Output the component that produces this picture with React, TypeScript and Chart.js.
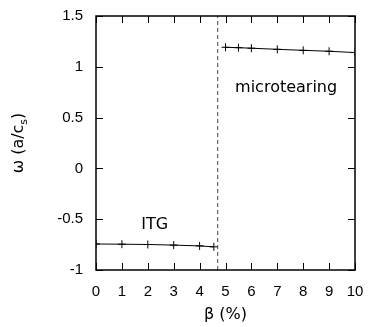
import React, { useEffect, useRef } from "react";
import { Chart, registerables } from "chart.js";

Chart.register(...registerables);

const itgBeta = [0, 1, 2, 3, 4, 4.55];
const itgOmega = [-0.744, -0.746, -0.749, -0.755, -0.763, -0.772];
const mtBeta = [5, 5.5, 6, 7, 8, 9, 10];
const mtOmega = [1.192, 1.188, 1.183, 1.172, 1.162, 1.153, 1.14];
const thresholdBeta = 4.7;
const xTicks = [0, 1, 2, 3, 4, 5, 6, 7, 8, 9, 10];
const yTicks = [-1, -0.5, 0, 0.5, 1, 1.5];
const annotations = [
  { text: "ITG", x: 1.75, y: -0.6 },
  { text: "microtearing", x: 5.37, y: 0.75 },
];

const TEXT_FONT = "16px 'DejaVu Sans'";

const framePlugin = {
  id: "frame",
  afterDatasetsDraw(chart: any) {
    const { ctx, chartArea: a, scales } = chart;
    const xs = scales.x;
    const ys = scales.y;
    ctx.save();
    const tx = xs.getPixelForValue(thresholdBeta);
    ctx.strokeStyle = "#444";
    ctx.lineWidth = 1;
    ctx.setLineDash([4, 3]);
    ctx.beginPath();
    ctx.moveTo(tx, a.bottom);
    ctx.lineTo(tx, a.top);
    ctx.stroke();
    ctx.setLineDash([]);
    ctx.strokeStyle = "#000";
    ctx.lineWidth = 1.5;
    ctx.strokeRect(a.left, a.top, a.right - a.left, a.bottom - a.top);
    const tl = 7;
    ctx.lineWidth = 1;
    ctx.beginPath();
    xTicks.forEach((v) => {
      const px = Math.round(xs.getPixelForValue(v)) + 0.5;
      ctx.moveTo(px, a.bottom);
      ctx.lineTo(px, a.bottom - tl);
      ctx.moveTo(px, a.top);
      ctx.lineTo(px, a.top + tl);
    });
    yTicks.forEach((v) => {
      const py = Math.round(ys.getPixelForValue(v)) + 0.5;
      ctx.moveTo(a.left, py);
      ctx.lineTo(a.left + tl, py);
      ctx.moveTo(a.right, py);
      ctx.lineTo(a.right - tl, py);
    });
    ctx.stroke();
    ctx.fillStyle = "#000";
    ctx.font = TEXT_FONT;
    ctx.textAlign = "left";
    ctx.textBaseline = "alphabetic";
    annotations.forEach((an) => {
      ctx.fillText(an.text, xs.getPixelForValue(an.x), ys.getPixelForValue(an.y));
    });
    ctx.textAlign = "center";
    ctx.fillText("β (%)", (a.left + a.right) / 2, 319);
    ctx.translate(23, 143);
    ctx.rotate(-Math.PI / 2);
    const p1 = "ω (a/c";
    const sub = "s";
    const p2 = ")";
    ctx.font = TEXT_FONT;
    const w1 = ctx.measureText(p1).width;
    const w3 = ctx.measureText(p2).width;
    ctx.font = "11px 'DejaVu Sans'";
    const w2 = ctx.measureText(sub).width;
    const total = w1 + w2 + w3;
    const x0 = -total / 2;
    ctx.textAlign = "left";
    ctx.font = TEXT_FONT;
    ctx.fillText(p1, x0, 0);
    ctx.font = "11px 'DejaVu Sans'";
    ctx.fillText(sub, x0 + w1, 4);
    ctx.font = TEXT_FONT;
    ctx.fillText(p2, x0 + w1 + w2, 0);
    ctx.restore();
  },
};

export default function App() {
  const ref = useRef<HTMLCanvasElement>(null);
  useEffect(() => {
    if (!ref.current) return;
    const ds = (xs: number[], ys: number[]) => ({
      data: xs.map((b, i) => ({ x: b, y: ys[i] })),
      borderColor: "#000",
      borderWidth: 1,
      pointStyle: "cross" as const,
      pointRadius: 4,
      pointBorderColor: "#000",
      pointBorderWidth: 1,
      tension: 0,
    });
    const chart = new Chart(ref.current, {
      type: "line",
      data: { datasets: [ds(itgBeta, itgOmega), ds(mtBeta, mtOmega)] },
      options: {
        animation: false,
        responsive: false,
        maintainAspectRatio: false,
        layout: { padding: { top: 16, right: 15, left: 0, bottom: 0 } },
        plugins: { legend: { display: false }, tooltip: { enabled: false } },
        scales: {
          x: {
            type: "linear",
            min: 0,
            max: 10,
            afterBuildTicks: (s: any) => {
              s.ticks = xTicks.map((v) => ({ value: v }));
            },
            afterFit: (s: any) => {
              s.height = 57;
              s.paddingLeft = 0;
              s.paddingRight = 0;
            },
            grid: { display: false, drawTicks: false },
            border: { display: false },
            ticks: {
              color: "#000",
              padding: 13,
              font: { family: "'Liberation Sans'", size: 15 },
              maxRotation: 0,
              autoSkip: false,
            },
          },
          y: {
            type: "linear",
            min: -1,
            max: 1.5,
            afterBuildTicks: (s: any) => {
              s.ticks = yTicks.map((v) => ({ value: v }));
            },
            afterFit: (s: any) => {
              s.width = 96;
              s.paddingTop = 0;
              s.paddingBottom = 0;
            },
            grid: { display: false, drawTicks: false },
            border: { display: false },
            ticks: {
              color: "#000",
              padding: 13,
              font: { family: "'Liberation Sans'", size: 15 },
              autoSkip: false,
              callback: (v: any) => String(v),
            },
          },
        },
      },
      plugins: [framePlugin],
    });
    return () => chart.destroy();
  }, []);
  return (
    <canvas
      ref={ref}
      width={370}
      height={327}
      style={{ position: "fixed", left: 0, top: 0, width: 370, height: 327 }}
    />
  );
}
